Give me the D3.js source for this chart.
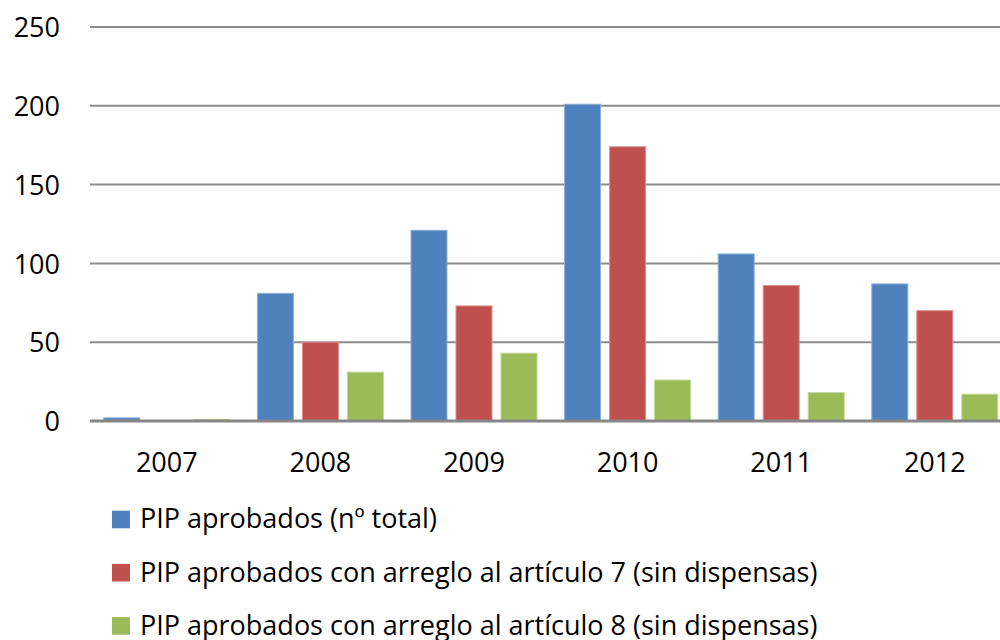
<!DOCTYPE html>
<html><head><meta charset="utf-8">
<script src="https://cdn.jsdelivr.net/npm/d3@7"></script>
<style>body{margin:0;background:#fff;} svg{display:block;font-family:"Open Sans", sans-serif;}</style>
</head><body>
<svg id="c" width="1000" height="640"></svg>
<script>
const categories = ["2007","2008","2009","2010","2011","2012"];
const seriesNames = ["PIP aprobados (nº total)","PIP aprobados con arreglo al artículo 7 (sin dispensas)","PIP aprobados con arreglo al artículo 8 (sin dispensas)"];
const total = [2,81,121,201,106,87];
const art7 = [0,50,73,174,86,70];
const art8 = [1,31,43,26,18,17];
const yTicks = [0,50,100,150,200,250];
const colors = ["#4F81BD","#C0504D","#9BBB59"];
const strokes = ["#8FB0D8","#DB8F8D","#C0D79A"];

const FONT = "Open Sans";
const FS = 27;
const svg = d3.select("#c");
const y = d3.scaleLinear().domain([0,250]).range([421,27]);
const x = d3.scaleBand().domain(categories).range([90,1011.6]);
const x1 = d3.scaleBand().domain([0,1,2]).range([13.8,139.8]).paddingInner(0.2);
const data = [total,art7,art8];

// y axis labels
const yAxis = d3.axisLeft(y).tickValues(yTicks).tickSize(0).tickPadding(30);
const gy = svg.append("g").attr("transform","translate(90,0)").call(yAxis);
gy.select(".domain").remove();
gy.selectAll("text").attr("font-size",FS).attr("fill","#000").attr("font-family",FONT).attr("dy","0.36em");
// gridlines
svg.append("g").selectAll("line").data(yTicks.filter(d=>d>0)).join("line")
  .attr("x1",90).attr("x2",1000).attr("y1",d=>y(d)).attr("y2",d=>y(d))
  .attr("stroke","#8C8C8C").attr("stroke-width",2);

// bars
categories.forEach((c,i)=>{
  const g = svg.append("g").attr("transform",`translate(${x(c)},0)`);
  data.forEach((s,k)=>{
    if (s[i] <= 0) return;
    g.append("rect").attr("x",x1(k)).attr("width",x1.bandwidth())
      .attr("y",y(s[i])).attr("height",y(0)-y(s[i]))
      .attr("fill",colors[k]).attr("stroke",strokes[k]).attr("stroke-width",1);
  });
});

// x axis
const xAxis = d3.axisBottom(x).tickSize(0).tickPadding(0);
const gx = svg.append("g").attr("transform",`translate(0,${y(0)})`).call(xAxis);
gx.select(".domain").remove();
gx.selectAll("text").attr("font-size",FS).attr("fill","#000").attr("font-family",FONT)
  .attr("y",50.5).attr("dy",null);
svg.append("line").attr("x1",90).attr("x2",1000).attr("y1",y(0)).attr("y2",y(0))
  .attr("stroke","#868686").attr("stroke-width",3);

// legend
const lg = svg.append("g");
seriesNames.forEach((n,k)=>{
  const base = 528.3 + k*53.2;
  lg.append("rect").attr("x",112).attr("y",base-17.6).attr("width",18).attr("height",17.6).attr("fill",colors[k]);
  lg.append("text").attr("x",140).attr("y",base).attr("font-size",FS).attr("font-family",FONT).text(n);
});
</script>
</body></html>
